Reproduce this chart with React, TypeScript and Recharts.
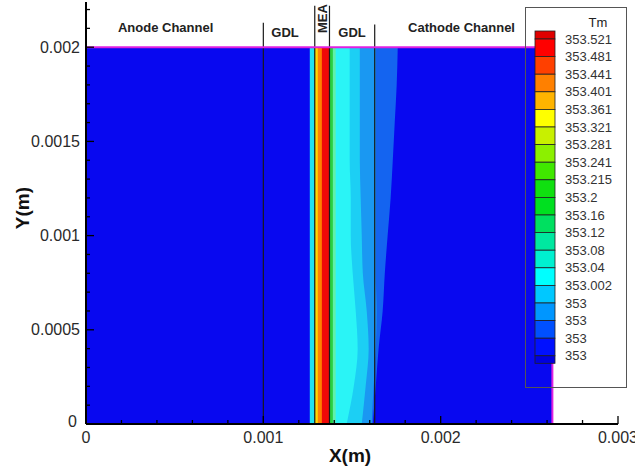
import { ComposedChart, Area, XAxis, YAxis, ReferenceLine, ReferenceArea, Legend } from "recharts";

const yLevels = [0, 0.0002, 0.0004, 0.0006, 0.0008, 0.001, 0.0012, 0.0014, 0.0016, 0.0018, 0.002];

// right edge (m) of each colour band, one value per y level
const domainRight = [0.00263, 0.00263, 0.00263, 0.00263, 0.00263, 0.00263, 0.00263, 0.00263, 0.00263, 0.00263, 0.00263];
const blue2Right = [0.001617, 0.001634, 0.00165, 0.001673, 0.001685, 0.001701, 0.001718, 0.00173, 0.001741, 0.001752, 0.001758];
const blue3Right = [0.001611, 0.001622, 0.001634, 0.001639, 0.001634, 0.001634, 0.001634, 0.001634, 0.001634, 0.001634, 0.001634];
const skyRight = [0.001555, 0.001577, 0.001594, 0.001583, 0.001561, 0.001555, 0.001549, 0.001544, 0.001544, 0.001544, 0.001544];
const cyanRight = [0.00147, 0.00151, 0.001532, 0.001521, 0.001504, 0.001493, 0.001493, 0.001487, 0.001487, 0.001487, 0.001487];
const mintRight = [0.001408, 0.001408, 0.001408, 0.001408, 0.001408, 0.001408, 0.001408, 0.001408, 0.001408, 0.001408, 0.001408];
const greenRight = [0.001392, 0.001392, 0.001392, 0.001392, 0.001392, 0.001392, 0.001392, 0.001392, 0.001392, 0.001392, 0.001392];
const redRight = [0.001375, 0.001375, 0.001375, 0.001375, 0.001375, 0.001375, 0.001375, 0.001375, 0.001375, 0.001375, 0.001375];
const orangeRight = [0.00133, 0.00133, 0.00133, 0.00133, 0.00133, 0.00133, 0.00133, 0.00133, 0.00133, 0.00133, 0.00133];
const yellowRight = [0.001307, 0.001307, 0.001307, 0.001307, 0.001307, 0.001307, 0.001307, 0.001307, 0.001307, 0.001307, 0.001307];
const cyanLeftRight = [0.00129, 0.00129, 0.00129, 0.00129, 0.00129, 0.00129, 0.00129, 0.00129, 0.00129, 0.00129, 0.00129];
const anodeBlueRight = [0.001262, 0.001262, 0.001262, 0.001262, 0.001262, 0.001262, 0.001262, 0.001262, 0.001262, 0.001262, 0.001262];

// painted widest first so each narrower band covers the previous one
const bands = [
  { key: "domainRight", values: domainRight, color: "#0808f0" },
  { key: "blue2Right", values: blue2Right, color: "#1464f0" },
  { key: "blue3Right", values: blue3Right, color: "#1a98f2" },
  { key: "skyRight", values: skyRight, color: "#1ccff4" },
  { key: "cyanRight", values: cyanRight, color: "#2af4f6" },
  { key: "mintRight", values: mintRight, color: "#60f0a8" },
  { key: "greenRight", values: greenRight, color: "#28d040" },
  { key: "redRight", values: redRight, color: "#f00808" },
  { key: "orangeRight", values: orangeRight, color: "#ff8000" },
  { key: "yellowRight", values: yellowRight, color: "#ffd800" },
  { key: "cyanLeftRight", values: cyanLeftRight, color: "#20e0f0" },
  { key: "anodeBlueRight", values: anodeBlueRight, color: "#0808f0" },
];

const rows = yLevels.map((y, i) => {
  const row: Record<string, number> = { y };
  bands.forEach((b) => (row[b.key] = b.values[i]));
  return row;
});

// layer boundaries
const regionEdges = [0, 0.001, 0.00129, 0.001373, 0.001628, 0.00263];
const regionNames = ["Anode Channel", "GDL", "MEA", "GDL", "Cathode Channel"];
const regionLabelShift = [
  { dx: -9, dy: 3, angle: 0 },
  { dx: -4, dy: 8, angle: 0 },
  { dx: 0, dy: -6, angle: -90 },
  { dx: 0, dy: 8, angle: 0 },
  { dx: -2, dy: 3, angle: 0 },
];
const lineX = [0.001, 0.00129, 0.001373, 0.001628];
const lineTop = [0.00213, 0.00222, 0.00222, 0.00212];

const xMajorTicks = [0, 0.001, 0.002, 0.003];
const xMinorTicks = [0.0002, 0.0004, 0.0006, 0.0008, 0.0012, 0.0014, 0.0016, 0.0018, 0.0022, 0.0024, 0.0026, 0.0028];
const yMajorTicks = [0, 0.0005, 0.001, 0.0015, 0.002];
const yMinorTicks = [
  0.0001, 0.0002, 0.0003, 0.0004, 0.0006, 0.0007, 0.0008, 0.0009, 0.0011, 0.0012, 0.0013, 0.0014,
  0.0016, 0.0017, 0.0018, 0.0019, 0.0021, 0.0022,
];

const legendLabels = [
  "353.521", "353.481", "353.441", "353.401", "353.361", "353.321", "353.281", "353.241", "353.215", "353.2",
  "353.16", "353.12", "353.08", "353.04", "353.002", "353", "353", "353", "353",
];
const legendColors = [
  "#e00000", "#ff0000", "#ff4000", "#ff8000", "#ffb400", "#ffff00", "#c8f000", "#8cf000", "#40e800", "#10e010",
  "#00e020", "#00e060", "#00e8a0", "#00f0d0", "#00ffff", "#00c8ff", "#0096ff", "#0050ff", "#0010ff", "#0000e0",
];

const FONT = "Arial, 'Liberation Sans', sans-serif";

const isIn = (list: number[], v: number) => list.some((t) => Math.abs(t - v) < 1e-9);

const YTick = (props: any) => {
  const { x, y, payload } = props;
  const major = isIn(yMajorTicks, payload.value);
  const isZero = Math.abs(payload.value) < 1e-12;
  return (
    <g>
      <line x1={x} x2={x + (major ? 8 : 4)} y1={y} y2={y} stroke="#000" strokeWidth={1.3} />
      {major && (
        <text
          x={x - (isZero ? 9 : 6)}
          y={y - (isZero ? 3 : 0)}
          dy="0.35em"
          textAnchor="end"
          fontSize={16}
          fill="#2a2a2a"
          fontFamily={FONT}
        >
          {String(payload.value)}
        </text>
      )}
    </g>
  );
};

const XTick = (props: any) => {
  const { x, y, payload } = props;
  const major = isIn(xMajorTicks, payload.value);
  return (
    <g>
      <line x1={x} x2={x} y1={y} y2={y - (major ? 8 : 4)} stroke="#000" strokeWidth={1.3} />
      {major && (
        <text x={x} y={y + 19} textAnchor="middle" fontSize={16} fill="#2a2a2a" fontFamily={FONT}>
          {String(payload.value)}
        </text>
      )}
    </g>
  );
};

const ColorBar = () => {
  const top = 39;
  const step = 17.6;
  const barX = 11;
  const barW = 20;
  const ys = [31, ...legendLabels.map((_, i) => top + i * step), top + (legendLabels.length - 1) * step + 7.5];
  return (
    <svg width={104} height={392} style={{ display: "block", overflow: "visible" }}>
      <rect x={1.5} y={7.5} width={101} height={380} fill="none" stroke="#555" strokeWidth={1} />
      <text x={74} y={27} textAnchor="middle" fontSize={13} fill="#222" fontFamily={FONT}>
        Tm
      </text>
      {legendColors.map((c, i) => (
        <rect key={i} x={barX} y={ys[i]} width={barW} height={ys[i + 1] - ys[i]} fill={c} stroke="#222" strokeWidth={0.8} />
      ))}
      {legendLabels.map((l, i) => (
        <text key={i} x={41} y={top + i * step} dy="0.35em" fontSize={13} fill="#333" fontFamily={FONT}>
          {l}
        </text>
      ))}
    </svg>
  );
};

export default function App() {
  return (
    <div style={{ position: "absolute", left: 0, top: 0, background: "#fff" }}>
      <ComposedChart
        width={635}
        height={470}
        data={rows}
        layout="vertical"
        margin={{ top: 2, right: 17, left: 0, bottom: 0 }}
      >
        <XAxis
          type="number"
          domain={[0, 0.003]}
          ticks={[...xMajorTicks, ...xMinorTicks]}
          interval={0}
          tickSize={0}
          tickMargin={0}
          tick={<XTick />}
          height={46}
          axisLine={{ stroke: "#000", strokeWidth: 2 }}
          allowDataOverflow
          label={(p: any) => (
            <text
              x={p.viewBox.x + p.viewBox.width / 2 - 2}
              y={p.viewBox.y + 38}
              textAnchor="middle"
              fontSize={19}
              fontWeight="bold"
              fill="#111"
              fontFamily={FONT}
            >
              X(m)
            </text>
          )}
        />
        <YAxis
          type="number"
          dataKey="y"
          domain={[0, 0.00224]}
          reversed
          ticks={[...yMajorTicks, ...yMinorTicks]}
          interval={0}
          tickSize={0}
          tickMargin={0}
          tick={<YTick />}
          width={86}
          axisLine={{ stroke: "#000", strokeWidth: 2 }}
          allowDataOverflow
          label={() => (
            <text
              x={22}
              y={208}
              transform="rotate(-90, 22, 208)"
              textAnchor="middle"
              dy="0.35em"
              fontSize={19}
              fontWeight="bold"
              fill="#111"
              fontFamily={FONT}
            >
              Y(m)
            </text>
          )}
        />
        {bands.map((b) => (
          <Area
            key={b.key}
            dataKey={b.key}
            type="monotone"
            fill={b.color}
            fillOpacity={1}
            stroke="none"
            isAnimationActive={false}
            legendType="none"
          />
        ))}
        {lineX.map((x, i) => (
          <ReferenceLine
            key={"l" + i}
            segment={[
              { x, y: 0 },
              { x, y: lineTop[i] },
            ]}
            stroke="#1a1a1a"
            strokeWidth={1.2}
          />
        ))}
        <ReferenceLine
          segment={[
            { x: 0, y: 0.002 },
            { x: regionEdges[5], y: 0.002 },
          ]}
          stroke="#e020e0"
          strokeWidth={2}
        />
        <ReferenceLine
          segment={[
            { x: regionEdges[5], y: 0 },
            { x: regionEdges[5], y: 0.002 },
          ]}
          stroke="#e020e0"
          strokeWidth={2}
        />
        {regionNames.map((name, i) => (
          <ReferenceArea
            key={"r" + i}
            x1={regionEdges[i]}
            x2={regionEdges[i + 1]}
            y1={0.002}
            y2={0.00224}
            fill="none"
            stroke="none"
            label={(p: any) => {
              const s = regionLabelShift[i];
              const cx = p.viewBox.x + p.viewBox.width / 2 + s.dx;
              const cy = p.viewBox.y + p.viewBox.height / 2 + s.dy;
              return (
                <text
                  x={cx}
                  y={cy}
                  dy="0.35em"
                  textAnchor="middle"
                  transform={s.angle ? `rotate(${s.angle}, ${cx}, ${cy})` : undefined}
                  fontSize={13}
                  fontWeight="bold"
                  fill="#222"
                  fontFamily={FONT}
                >
                  {name}
                </text>
              );
            }}
          />
        ))}
        <Legend
          layout="vertical"
          align="center"
          verticalAlign="middle"
          content={() => <ColorBar />}
          wrapperStyle={{ left: 524, top: 0, width: 104, height: 392 }}
        />
      </ComposedChart>
    </div>
  );
}
